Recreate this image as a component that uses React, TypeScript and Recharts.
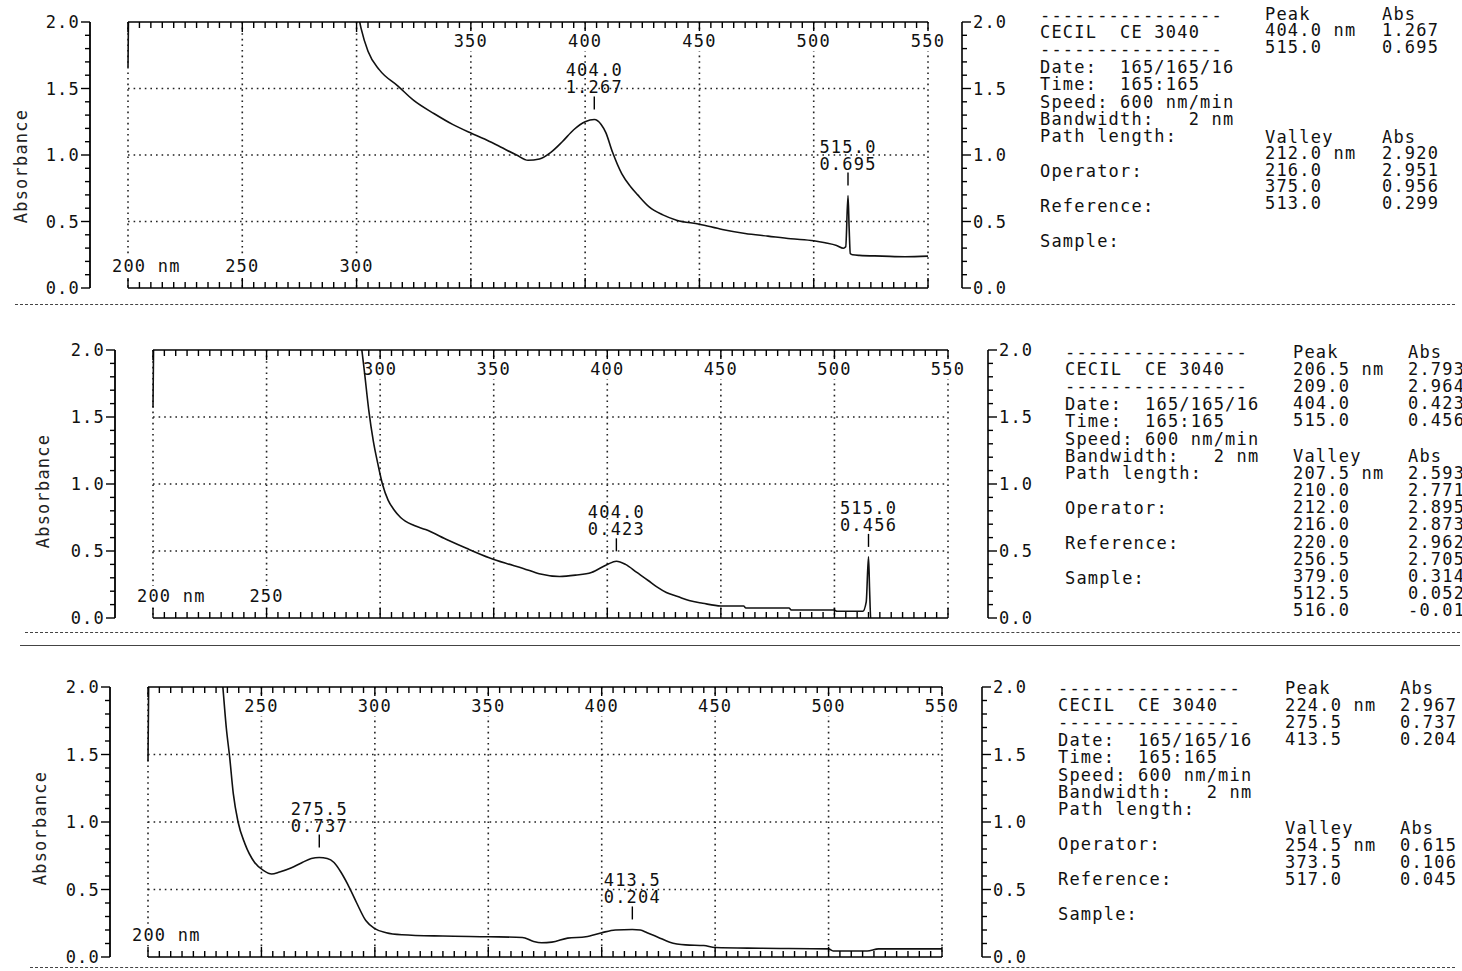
import React from 'react';
import { LineChart, Line, XAxis, YAxis, CartesianGrid, ReferenceDot } from 'recharts';

const MONO = '"DejaVu Sans Mono", "Liberation Mono", monospace';
const FS = 17;
const LS = 1.2;

// wavelength ticks (every 5 nm) and absorbance ticks (every 0.1)
const nmTicks = [
  200, 205, 210, 215, 220, 225, 230, 235, 240, 245, 250, 255, 260, 265, 270, 275, 280, 285, 290, 295,
  300, 305, 310, 315, 320, 325, 330, 335, 340, 345, 350, 355, 360, 365, 370, 375, 380, 385, 390, 395,
  400, 405, 410, 415, 420, 425, 430, 435, 440, 445, 450, 455, 460, 465, 470, 475, 480, 485, 490, 495,
  500, 505, 510, 515, 520, 525, 530, 535, 540, 545, 550,
];
const absTicks = [0, 0.1, 0.2, 0.3, 0.4, 0.5, 0.6, 0.7, 0.8, 0.9, 1, 1.1, 1.2, 1.3, 1.4, 1.5, 1.6, 1.7, 1.8, 1.9, 2];
const gridNm = [200, 250, 300, 350, 400, 450, 500, 550];
const gridAbs = [0.5, 1, 1.5];

// spectrum 1
const wl1 = [200, 201, 205, 212, 216, 220, 240, 260, 280, 292, 298, 300, 302, 305, 310, 318, 325, 334, 342, 350,
  356, 363, 370, 375, 380, 385, 390, 395, 400, 404, 407, 409, 412, 416, 420, 423, 428, 434, 440, 450,
  460, 470, 480, 490, 500, 505, 510, 513, 514, 515, 515.5, 516, 517, 520, 530, 540, 550];
const abs1 = [1.66, 2.9, 2.95, 2.92, 2.951, 2.97, 2.95, 2.9, 2.8, 2.6, 2.3, 2.12, 1.95, 1.78, 1.64, 1.52, 1.41, 1.31, 1.23, 1.165,
  1.12, 1.06, 1.0, 0.96, 0.97, 1.02, 1.1, 1.19, 1.25, 1.267, 1.23, 1.17, 1.02, 0.86, 0.76, 0.7, 0.61, 0.55, 0.51, 0.48,
  0.44, 0.41, 0.39, 0.37, 0.355, 0.34, 0.32, 0.299, 0.31, 0.695, 0.45, 0.26, 0.25, 0.245, 0.24, 0.235, 0.24];
const peakNm1 = [404.0, 515.0];
const peakAbs1 = [1.267, 0.695];
const valleyNm1 = [212.0, 216.0, 375.0, 513.0];
const valleyAbs1 = [2.92, 2.951, 0.956, 0.299];
const top1 = [350, 400, 450, 500, 550];
const bottom1 = [200, 250, 300];

// spectrum 2
const wl2 = [200, 201, 206.5, 207.5, 209, 210, 212, 216, 220, 240, 256.5, 270, 282, 288, 291, 293, 295, 297, 299, 301,
  303.5, 306, 309, 315, 320, 330, 338, 348, 355, 363, 370, 379, 386, 393, 400, 404, 408, 413, 418, 422,
  426, 431, 436, 442, 450, 460, 461, 480, 481, 500, 501, 512.5, 514, 515, 515.5, 516, 520, 550];
const abs2 = [1.57, 2.8, 2.79, 2.59, 2.96, 2.77, 2.89, 2.87, 2.96, 2.9, 2.7, 2.75, 2.6, 2.35, 2.12, 1.85, 1.55, 1.32, 1.15, 1.0,
  0.88, 0.81, 0.75, 0.69, 0.66, 0.58, 0.52, 0.45, 0.41, 0.37, 0.33, 0.31, 0.32, 0.34, 0.4, 0.423, 0.4, 0.34, 0.28, 0.23,
  0.19, 0.16, 0.13, 0.11, 0.09, 0.09, 0.075, 0.075, 0.06, 0.06, 0.05, 0.05, 0.12, 0.456, 0.2, -0.01, -0.01, -0.01];
const peakNm2 = [206.5, 209.0, 404.0, 515.0];
const peakAbs2 = [2.793, 2.964, 0.423, 0.456];
const valleyNm2 = [207.5, 210.0, 212.0, 216.0, 220.0, 256.5, 379.0, 512.5, 516.0];
const valleyAbs2 = [2.593, 2.771, 2.895, 2.873, 2.962, 2.705, 0.314, 0.052, -0.012];
const top2 = [300, 350, 400, 450, 500, 550];
const bottom2 = [200, 250];

// spectrum 3
const wl3 = [200, 201, 210, 224, 228, 231, 233, 234.5, 236, 237.6, 239.7, 242.7, 247, 251, 254.5, 258, 263, 268, 272, 275.5,
  279, 282, 285, 288, 292, 296, 300, 305, 312, 330, 350, 365, 370, 373.5, 378, 385, 393, 400, 406, 413.5,
  417, 420, 425, 430, 437, 445, 450, 470, 500, 502, 517, 522, 550];
const abs3 = [1.45, 2.8, 2.9, 2.967, 2.8, 2.4, 2.0, 1.7, 1.48, 1.21, 1.0, 0.84, 0.7, 0.64, 0.615, 0.63, 0.66, 0.7, 0.73, 0.737,
  0.73, 0.7, 0.63, 0.54, 0.4, 0.27, 0.21, 0.18, 0.165, 0.155, 0.15, 0.145, 0.115, 0.106, 0.11, 0.14, 0.15, 0.18, 0.2, 0.204,
  0.2, 0.18, 0.145, 0.11, 0.09, 0.085, 0.07, 0.065, 0.06, 0.045, 0.045, 0.06, 0.06];
const peakNm3 = [224.0, 275.5, 413.5];
const peakAbs3 = [2.967, 0.737, 0.204];
const valleyNm3 = [254.5, 373.5, 517.0];
const valleyAbs3 = [0.615, 0.106, 0.045];
const top3 = [250, 300, 350, 400, 450, 500, 550];
const bottom3 = [200];

const infoLines = [
  '----------------',
  'CECIL  CE 3040',
  '----------------',
  'Date:  165/165/16',
  'Time:  165:165',
  'Speed: 600 nm/min',
  'Bandwidth:   2 nm',
  'Path length:',
  '',
  'Operator:',
  '',
  'Reference:',
  '',
  'Sample:',
];

const txt = { fontFamily: MONO, fontSize: FS, letterSpacing: LS, fill: '#111' } as const;

// label on the scale; a small white patch hides the dotted grid line behind it
function AxisLabel({ gx, x, y, s, anchor }: { gx: number; x: number; y: number; s: string; anchor: 'start' | 'middle' }) {
  return (
    <g>
      <rect x={gx - 6} y={y - 10} width={12} height={20} fill="#fff" />
      <text x={x} y={y} textAnchor={anchor} dominantBaseline="central" style={txt}>{s}</text>
    </g>
  );
}

function TopTick(props: any) {
  const { x, y, payload, labels } = props;
  const v = payload.value;
  const major = v % 50 === 0;
  return (
    <g>
      <line x1={x} y1={y} x2={x} y2={y + (major ? 10 : 6)} stroke="#000" strokeWidth={1.4} />
      {labels.includes(v) && <AxisLabel gx={x} x={x} y={y + 19} s={String(v)} anchor="middle" />}
    </g>
  );
}

function BottomTick(props: any) {
  const { x, y, payload, labels } = props;
  const v = payload.value;
  const major = v % 50 === 0;
  return (
    <g>
      <line x1={x} y1={y} x2={x} y2={y - (major ? 10 : 6)} stroke="#000" strokeWidth={1.4} />
      {labels.includes(v) && (v === 200
        ? <AxisLabel gx={x} x={x - 16} y={y - 22} s="200 nm" anchor="start" />
        : <AxisLabel gx={x} x={x} y={y - 22} s={String(v)} anchor="middle" />)}
    </g>
  );
}

const isMajor = (v: number) => Math.abs(v * 2 - Math.round(v * 2)) < 1e-6;

function LeftTick(props: any) {
  const { x, y, payload } = props;
  const v = payload.value;
  const major = isMajor(v);
  return (
    <g>
      <line x1={x - (major ? 9 : 5)} y1={y} x2={x} y2={y} stroke="#000" strokeWidth={1.4} />
      {major && (
        <text x={x - 10} y={y} textAnchor="end" dominantBaseline="central" style={txt}>{v.toFixed(1)}</text>
      )}
    </g>
  );
}

function RightTick(props: any) {
  const { x, y, payload } = props;
  const v = payload.value;
  const major = isMajor(v);
  return (
    <g>
      <line x1={x} y1={y} x2={x + (major ? 9 : 5)} y2={y} stroke="#000" strokeWidth={1.4} />
      {major && (
        <text x={x + 11} y={y} textAnchor="start" dominantBaseline="central" style={txt}>{v.toFixed(1)}</text>
      )}
    </g>
  );
}

function PeakMark(props: any) {
  const { cx, cy, nm, a } = props;
  return (
    <g>
      <text x={cx} y={cy - 49} textAnchor="middle" dominantBaseline="central" style={txt}>{nm.toFixed(1)}</text>
      <text x={cx} y={cy - 32} textAnchor="middle" dominantBaseline="central" style={txt}>{a.toFixed(3)}</text>
      <line x1={cx} x2={cx} y1={cy - 23} y2={cy - 10} stroke="#000" strokeWidth={1.4} />
    </g>
  );
}

type Lay = { plotL: number; plotR: number; plotT: number; plotB: number; axL: number; axR: number };

function Spectrum(p: {
  wl: number[]; abs: number[]; peakNm: number[]; peakAbs: number[];
  topLabels: number[]; bottomLabels: number[]; lay: Lay;
}) {
  const { lay } = p;
  const data = p.wl.map((nm, i) => ({ nm, a: p.abs[i] }));
  const left = lay.axL - 85;
  const width = lay.axR + 60 - left;
  const top = lay.plotT - 11;
  const height = lay.plotB - lay.plotT + 22;
  const marks = p.peakNm.map((nm, i) => ({ nm, a: p.peakAbs[i] })).filter((m) => m.a < 2);
  return (
    <div style={{ position: 'absolute', left, top }}>
      <LineChart width={width} height={height} data={data} margin={{ top: 10, right: 0, bottom: 10, left: 0 }}>
        <CartesianGrid xAxisId="b" yAxisId="zL" verticalValues={gridNm} horizontalValues={gridAbs}
          stroke="#222" strokeWidth={1.6} strokeDasharray="1.6 4" />
        <XAxis xAxisId="b" dataKey="nm" type="number" domain={[200, 550]} ticks={nmTicks} interval={0}
          height={1} tickSize={0} tickMargin={0} axisLine={{ stroke: '#000', strokeWidth: 1.6 }}
          tick={<BottomTick labels={p.bottomLabels} />} />
        <XAxis xAxisId="t" orientation="top" dataKey="nm" type="number" domain={[200, 550]} ticks={nmTicks}
          interval={0} height={1} tickSize={0} tickMargin={0} axisLine={{ stroke: '#000', strokeWidth: 1.6 }}
          tick={<TopTick labels={p.topLabels} />} />
        <YAxis yAxisId="zL" orientation="left" type="number" domain={[0, 2]} allowDataOverflow ticks={absTicks}
          interval={0} width={85} tickSize={0} tickMargin={0} axisLine={{ stroke: '#000', strokeWidth: 1.8 }}
          tick={<LeftTick />} />
        <YAxis yAxisId="aGapL" orientation="left" type="number" domain={[0, 2]} allowDataOverflow
          width={lay.plotL - lay.axL} axisLine={false} tickLine={false} tick={false} />
        <YAxis yAxisId="zR" orientation="right" type="number" domain={[0, 2]} allowDataOverflow ticks={absTicks}
          interval={0} width={60} tickSize={0} tickMargin={0} axisLine={{ stroke: '#000', strokeWidth: 1.6 }}
          tick={<RightTick />} />
        <YAxis yAxisId="aGapR" orientation="right" type="number" domain={[0, 2]} allowDataOverflow
          width={lay.axR - lay.plotR} axisLine={false} tickLine={false} tick={false} />
        <Line xAxisId="b" yAxisId="zL" dataKey="a" type="monotone" stroke="#111" strokeWidth={1.6} dot={false}
          isAnimationActive={false} />
        {marks.map((m) => (
          <ReferenceDot key={'p' + m.nm} xAxisId="b" yAxisId="zL" x={m.nm} y={m.a} r={0}
            shape={(sp: any) => <PeakMark {...sp} nm={m.nm} a={m.a} />} />
        ))}
      </LineChart>
    </div>
  );
}

function Info(p: {
  x: number; y: number; nmX: number; absX: number; peakY: number; valleyY: number; step: number;
  peakNm: number[]; peakAbs: number[]; valleyNm: number[]; valleyAbs: number[];
}) {
  const line = (s: string, x: number, cy: number, key: string) => (
    <div key={key} style={{ position: 'absolute', left: x, top: cy - 7.5, height: 15, lineHeight: '15px',
      whiteSpace: 'pre', fontSize: FS, letterSpacing: LS, color: '#111' }}>{s}</div>
  );
  const rows = (head: string, nms: number[], abss: number[], y0: number, k: string) => [
    line(head, p.nmX, y0, k + 'h'),
    line('Abs', p.absX, y0, k + 'a'),
    ...nms.map((n, i) => line(n.toFixed(1) + (i === 0 ? ' nm' : ''), p.nmX, y0 + (i + 1) * p.step, k + 'n' + i)),
    ...abss.map((a, i) => line(a.toFixed(3), p.absX, y0 + (i + 1) * p.step, k + 'v' + i)),
  ];
  return (
    <>
      {infoLines.map((s, i) => line(s, p.x, p.y + i * 17.4, 'i' + i))}
      {rows('Peak', p.peakNm, p.peakAbs, p.peakY, 'p')}
      {rows('Valley', p.valleyNm, p.valleyAbs, p.valleyY, 'v')}
    </>
  );
}

function Ylabel({ x, y }: { x: number; y: number }) {
  return (
    <div style={{ position: 'absolute', left: x, top: y, transform: 'translate(-50%, -50%) rotate(-90deg)',
      whiteSpace: 'nowrap', fontSize: FS, letterSpacing: LS, color: '#222' }}>Absorbance</div>
  );
}

function Rule({ y, x1, x2, dashed }: { y: number; x1: number; x2: number; dashed?: boolean }) {
  return (
    <div style={{ position: 'absolute', left: x1, top: y, width: x2 - x1,
      borderTop: `1.5px ${dashed ? 'dashed' : 'solid'} #444` }} />
  );
}

export default function App() {
  return (
    <div style={{ position: 'absolute', left: 0, top: 0, width: 1462, height: 971, background: '#fff',
      overflow: 'hidden', fontFamily: MONO }}>
      <Spectrum wl={wl1} abs={abs1} peakNm={peakNm1} peakAbs={peakAbs1} topLabels={top1} bottomLabels={bottom1}
        lay={{ plotL: 128, plotR: 928, plotT: 22, plotB: 288, axL: 90, axR: 962 }} />
      <Spectrum wl={wl2} abs={abs2} peakNm={peakNm2} peakAbs={peakAbs2} topLabels={top2} bottomLabels={bottom2}
        lay={{ plotL: 153, plotR: 948, plotT: 350, plotB: 618, axL: 115, axR: 988 }} />
      <Spectrum wl={wl3} abs={abs3} peakNm={peakNm3} peakAbs={peakAbs3} topLabels={top3} bottomLabels={bottom3}
        lay={{ plotL: 148, plotR: 942, plotT: 687, plotB: 957, axL: 110, axR: 982 }} />

      <Info x={1040} y={15} nmX={1265} absX={1382} peakY={14} valleyY={137} step={16.5}
        peakNm={peakNm1} peakAbs={peakAbs1} valleyNm={valleyNm1} valleyAbs={valleyAbs1} />
      <Info x={1065} y={352} nmX={1293} absX={1408} peakY={352} valleyY={456} step={17.2}
        peakNm={peakNm2} peakAbs={peakAbs2} valleyNm={valleyNm2} valleyAbs={valleyAbs2} />
      <Info x={1058} y={688} nmX={1285} absX={1400} peakY={688} valleyY={828} step={17.2}
        peakNm={peakNm3} peakAbs={peakAbs3} valleyNm={valleyNm3} valleyAbs={valleyAbs3} />

      <Ylabel x={21} y={166} />
      <Ylabel x={43} y={491} />
      <Ylabel x={40} y={828} />

      <Rule y={304} x1={15} x2={1455} dashed />
      <Rule y={632} x1={25} x2={1460} dashed />
      <Rule y={645} x1={20} x2={1460} />
      <Rule y={967} x1={30} x2={1455} dashed />
    </div>
  );
}
